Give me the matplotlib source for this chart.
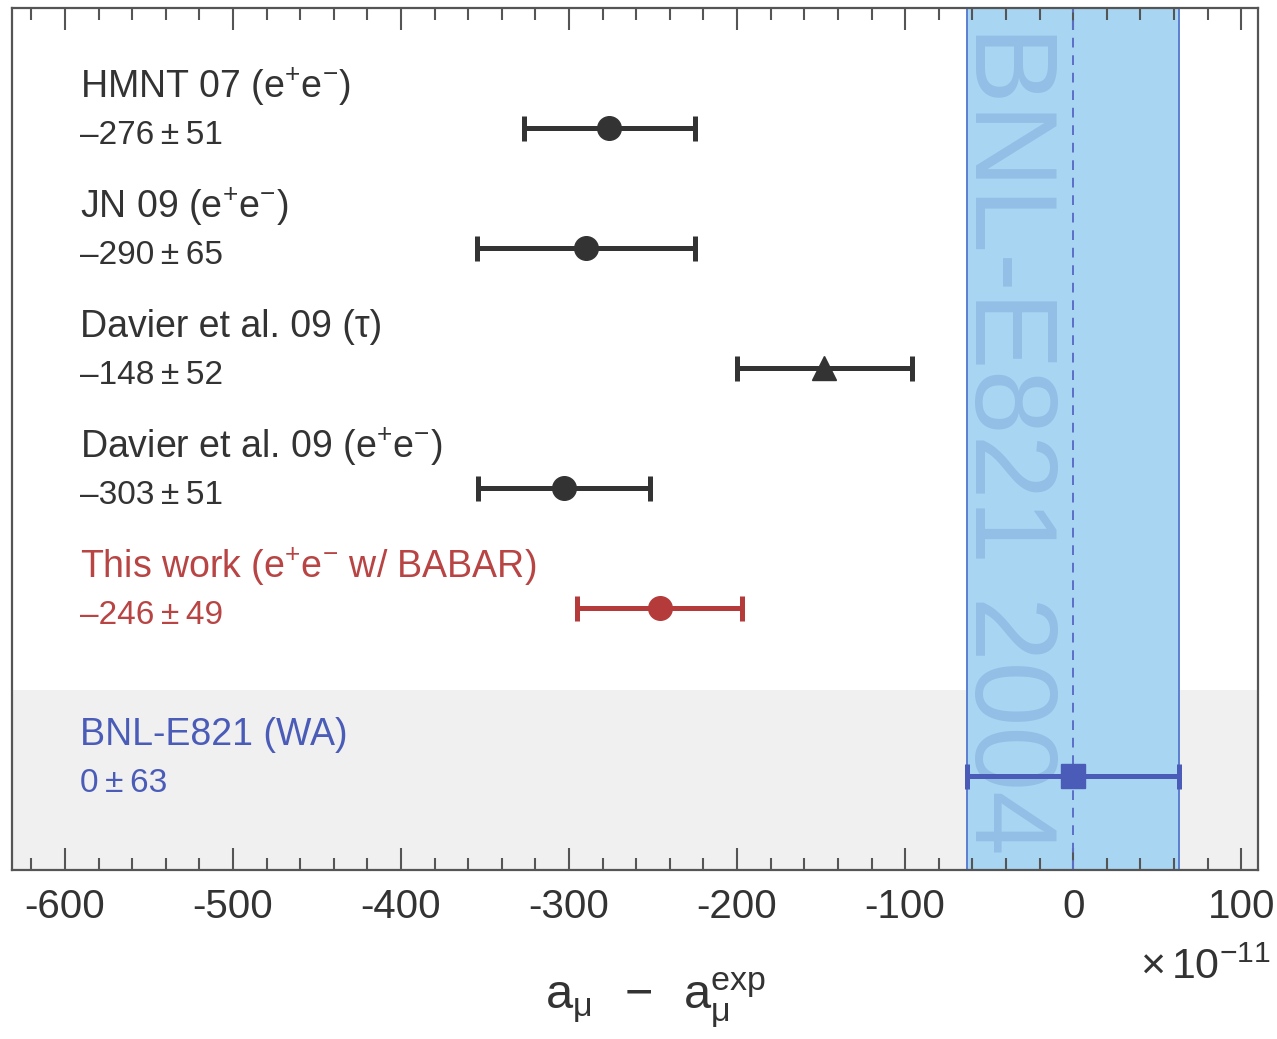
import matplotlib.pyplot as plt
import numpy as np

plt.rcParams['font.family'] = ['Liberation Sans', 'DejaVu Sans']
plt.rcParams['mathtext.fontset'] = 'custom'
plt.rcParams['mathtext.rm'] = 'Liberation Sans'
plt.rcParams['mathtext.it'] = 'Liberation Sans:italic'
plt.rcParams['axes.unicode_minus'] = False

# Data
names = [r'HMNT 07 (e$^{+}$e$^{-}$)',
         r'JN 09 (e$^{+}$e$^{-}$)',
         'Davier et al. 09 (\u03c4)',
         r'Davier et al. 09 (e$^{+}$e$^{-}$)',
         r'This work (e$^{+}$e$^{-}$ w/ BABAR)',
         'BNL-E821 (WA)']
centers = [-276, -290, -148, -303, -246, 0]
errors = [51, 65, 52, 51, 49, 63]
rows = [0, 1, 2, 3, 4, 5.4]
markers = ['o', 'o', '^', 'o', 'o', 's']
colors = ['#333333', '#333333', '#333333', '#333333', '#b53a3a', '#4a5cb8']
text_colors = ['#333333', '#333333', '#333333', '#333333', '#b84444', '#4a5cb8']

bnl_center = 0
bnl_err = 63

fig = plt.figure(figsize=(12.77, 10.39), dpi=100)
ax = fig.add_axes([12/1277, 1 - 870/1039, (1258 - 12)/1277, (870 - 8)/1039])

ax.set_xlim(-631.5, 110)
ax.set_ylim(6.183, -1.0)

# gray band behind the world average
ax.axhspan(4.683, 6.183, color='#f0f0f0', zorder=0, lw=0)

# BNL band
ax.axvspan(bnl_center - bnl_err, bnl_center + bnl_err, color='#a8d5f2', zorder=1, lw=0)
for xe in (bnl_center - bnl_err, bnl_center + bnl_err):
    ax.axvline(xe, color='#5b7fd0', lw=1.4, zorder=2)
ax.axvline(bnl_center, color='#5b6fc8', lw=1.4, ls=(0, (5, 4)), zorder=2)
ax.text(-40, -0.86, 'BNL-E821 2004', rotation=-90, ha='center', va='top',
        fontsize=84, color='#93bfe6', zorder=2, clip_on=True)

# points
for i in range(len(names)):
    ax.errorbar(centers[i], rows[i], xerr=errors[i], fmt=markers[i],
                color=colors[i], ms=17, lw=3.6, capsize=9, capthick=3.6, zorder=5)
    ax.text(-591, rows[i] - 0.34, names[i], fontsize=27, color=text_colors[i],
            ha='left', va='center')
    if centers[i] < 0:
        val = '\u2013%d\u2009\u00b1\u2009%d' % (abs(centers[i]), errors[i])
    else:
        val = '%d\u2009\u00b1\u2009%d' % (centers[i], errors[i])
    ax.text(-591, rows[i] + 0.06, val, fontsize=24, color=text_colors[i],
            ha='left', va='center')

# axes styling
ax.set_xticks(np.arange(-600, 101, 100))
ax.set_xticks(np.arange(-620, 111, 20), minor=True)
ax.set_xticklabels([str(v) for v in range(-600, 101, 100)])
ax.tick_params(axis='x', which='both', direction='in', top=True, bottom=True,
               color='#555555', width=1.5, labelsize=29, labelcolor='#333333', pad=13)
ax.tick_params(axis='x', which='major', length=16)
ax.tick_params(axis='x', which='minor', length=8.5)
ax.set_yticks([])
for sp in ax.spines.values():
    sp.set_color('#555555')
    sp.set_linewidth(1.6)
    sp.set_zorder(6)

fig.text(1205/1277, 1 - 968/1039, r'$\times\,10^{-11}$', fontsize=31,
         color='#333333', ha='center', va='center')
fig.text(655/1277, 1 - 1000/1039,
         '$\\mathrm{a}_{\\mathrm{\u03bc}}\\;\\;-\\;\\;\\mathrm{a}_{\\mathrm{\u03bc}}^{\\mathrm{exp}}$',
         fontsize=35, color='#333333', ha='center', va='center')

plt.savefig('out.png', dpi=100)
